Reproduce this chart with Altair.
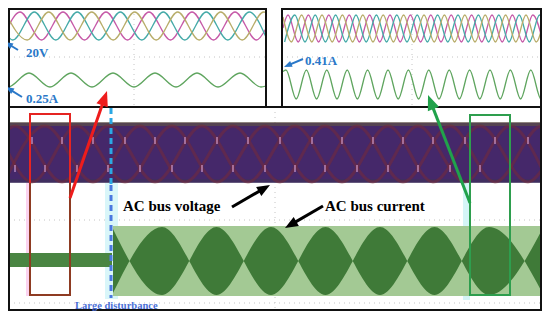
import math
import altair as alt
import pandas as pd

# ------------------------------------------------------------------
# Values (figure pixel units, x right, y down)
# ------------------------------------------------------------------
# Top-left scope: three phase voltages (extremes) and one current
tl_va_x = [5, 20, 41.5, 63, 84.5, 106, 127.5, 149, 170.5, 192, 213.5, 235, 256.5, 266]
tl_va_y = [34, 12, 40, 12, 40, 12, 40, 12, 40, 12, 40, 12, 40, 28.5]
tl_vb_x = [5, 12.8, 34.3, 55.8, 77.3, 98.8, 120.3, 141.8, 163.3, 184.8, 206.3, 227.8, 249.3, 266]
tl_vb_y = [32, 40, 12, 40, 12, 40, 12, 40, 12, 40, 12, 40, 12, 37]
tl_vc_x = [5, 27.2, 48.7, 70.2, 91.7, 113.2, 134.7, 156.2, 177.7, 199.2, 220.7, 242.2, 263.7, 266]
tl_vc_y = [12, 40, 12, 40, 12, 40, 12, 40, 12, 40, 12, 40, 12, 12.3]
tl_i_x = [5, 8, 29, 50, 71, 92, 113, 134, 155, 176, 197, 218, 240, 261, 266]
tl_i_y = [86.5, 87, 73, 87, 73, 87, 73, 87, 73, 87, 73, 87, 73, 87, 86]

# Top-right scope
tr_va_x = [283, 288, 298.2, 308.4, 318.6, 328.8, 339, 349.2, 359.4, 369.6, 379.8, 390, 400.2, 410.4,
           420.6, 430.8, 441, 451.2, 461.4, 471.6, 481.8, 492, 502.2, 512.4, 522.6, 532.8, 543]
tr_va_y = [28, 15, 42, 15, 42, 15, 42, 15, 42, 15, 42, 15, 42, 15,
           42, 15, 42, 15, 42, 15, 42, 15, 42, 15, 42, 15, 42]
tr_vb_x = [284.6, 294.8, 305, 315.2, 325.4, 335.6, 345.8, 356, 366.2, 376.4, 386.6, 396.8, 407, 417.2,
           427.4, 437.6, 447.8, 458, 468.2, 478.4, 488.6, 498.8, 509, 519.2, 529.4, 539.6, 544]
tr_vb_y = [42, 15, 42, 15, 42, 15, 42, 15, 42, 15, 42, 15, 42, 15,
           42, 15, 42, 15, 42, 15, 42, 15, 42, 15, 42, 15, 25.7]
tr_vc_x = [283, 291.4, 301.6, 311.8, 322, 332.2, 342.4, 352.6, 362.8, 373, 383.2, 393.4, 403.6, 413.8,
           424, 434.2, 444.4, 454.6, 464.8, 475, 485.2, 495.4, 505.6, 515.8, 526, 536.2, 544]
tr_vc_y = [17, 42, 15, 42, 15, 42, 15, 42, 15, 42, 15, 42, 15, 42,
           15, 42, 15, 42, 15, 42, 15, 42, 15, 42, 15, 42, 18.5]
tr_i_x = [283, 286, 296.2, 306.4, 316.6, 326.8, 337, 347.2, 357.4, 367.6, 377.8, 388, 398.2, 408.4,
          418.6, 428.8, 439, 449.2, 459.4, 469.6, 479.8, 490, 500.2, 510.4, 520.6, 530.8, 541, 544]
tr_i_y = [71.5, 70, 99, 70, 99, 70, 99, 70, 99, 70, 99, 70, 99, 70,
          99, 70, 99, 70, 99, 70, 99, 70, 99, 70, 99, 70, 99, 97.5]

# Bottom scope: AC bus voltage band and its slow envelopes
bv_band = [5, 544, 123, 182]
bv_a_x = [5, 15, 62, 108, 155, 202, 248, 295, 342, 388, 433, 480, 528, 544]
bv_a_y = [132, 126, 182, 126, 182, 126, 182, 126, 182, 126, 182, 126, 182, 167]
bv_b_x = [5, 45, 93, 140, 185, 233, 280, 325, 373, 418, 465, 510, 544]
bv_b_y = [181, 126, 182, 126, 182, 126, 182, 126, 182, 126, 182, 126, 173]
bv_c_x = [5, 32, 77, 125, 172, 217, 265, 312, 357, 403, 450, 495, 542, 544]
bv_c_y = [146, 182, 126, 182, 126, 182, 126, 182, 126, 182, 126, 182, 126, 126]
mark_top_x = [32, 62, 93, 125, 155, 185, 217, 248, 280, 312, 342, 373, 403, 433, 465, 495, 528]
mark_bot_x = [15, 45, 77, 108, 140, 172, 202, 233, 265, 295, 325, 357, 388, 418, 450, 480, 510, 542]

# Bottom scope: AC bus current (before / after disturbance)
bi_pre = [5, 112, 253, 267]
bi_post = [113, 544, 226, 296]
bi_lens_x = [113, 162, 216.5, 271, 325.5, 380, 434.5, 489, 543.5]
bi_lens_v = [32, -34, 34, -34, 34, -34, 34, -34, 34]
bi_center = 261

# ------------------------------------------------------------------
XS = alt.Scale(domain=[8, 542], zero=False, nice=False, padding=0)
YS = alt.Scale(domain=[8, 311], reverse=True, zero=False, nice=False, padding=0)


def xy():
    return dict(x=alt.X("x:Q", scale=XS, axis=None), y=alt.Y("y:Q", scale=YS, axis=None))


def trace(xs, ys, color, width=1.3, interp="monotone", dash=None, opacity=1.0):
    df = pd.DataFrame({"x": xs, "y": ys, "i": list(range(len(xs)))})
    kw = dict(color=color, strokeWidth=width, interpolate=interp, opacity=opacity)
    if dash is not None:
        kw["strokeDash"] = dash
    return alt.Chart(df).mark_line(**kw).encode(**xy(), order="i:Q")


def box(x1, x2, y1, y2, fill="transparent", stroke="transparent", sw=0, opacity=1.0):
    df = pd.DataFrame({"x": [x1], "x2": [x2], "y": [y1], "y2": [y2]})
    return alt.Chart(df).mark_rect(fill=fill, stroke=stroke, strokeWidth=sw, opacity=opacity).encode(
        **xy(), x2="x2:Q", y2="y2:Q")


def label(x, y, t, size, color, font="Liberation Serif"):
    df = pd.DataFrame({"x": [x], "y": [y], "t": [t]})
    return alt.Chart(df).mark_text(align="left", baseline="middle", font=font, fontWeight="bold",
                                   fontSize=size, color=color).encode(**xy(), text="t:N")


def arrow(tail, tip, color, width, head):
    dx, dy = tip[0] - tail[0], tip[1] - tail[1]
    L = math.hypot(dx, dy)
    ex, ey = tip[0] - dx / L * head * 0.6, tip[1] - dy / L * head * 0.6
    shaft = trace([tail[0], ex], [tail[1], ey], color, width, interp="linear")
    ang = math.degrees(math.atan2(dx, -dy)) % 360
    df = pd.DataFrame({"x": [tip[0]], "y": [tip[1]], "a": [ang]})
    hd = alt.Chart(df).mark_point(shape="M0,0L0.8,2L-0.8,2Z", filled=True, color=color,
                                  size=head * head, opacity=1, strokeWidth=0).encode(
        **xy(), angle=alt.Angle("a:Q", scale=None))
    return [shaft, hd]


MAG, TEAL, OLIVE, CUR = "#c65aa8", "#45aaa8", "#b8ad6a", "#5fa55f"
GRID = "#c4c4c4"
BLUE = "#2a78c8"

layers = []
# dotted grids
layers += [
    trace([9, 266], [57, 57], GRID, 1, "linear", [1, 4]),
    trace([134, 134], [9, 107], GRID, 1, "linear", [1, 4]),
    trace([282, 541], [57, 57], GRID, 1, "linear", [1, 4]),
    trace([412, 412], [9, 107], GRID, 1, "linear", [1, 4]),
    trace([9, 541], [220, 220], GRID, 1, "linear", [1, 4]),
    trace([9, 541], [303, 303], GRID, 1, "linear", [1, 4]),
    trace([275, 275], [107, 310], GRID, 1, "linear", [1, 4]),
]
# top scopes
layers += [
    trace(tl_va_x, tl_va_y, MAG), trace(tl_vb_x, tl_vb_y, TEAL), trace(tl_vc_x, tl_vc_y, OLIVE),
    trace(tl_i_x, tl_i_y, CUR),
    trace(tr_va_x, tr_va_y, MAG), trace(tr_vb_x, tr_vb_y, TEAL), trace(tr_vc_x, tr_vc_y, OLIVE),
    trace(tr_i_x, tr_i_y, CUR),
]
# highlight strips
layers += [
    box(26, 31, 183, 296, fill="#fbd3f0"),
    box(105, 118, 183, 299, fill="#d9f6f9"),
    box(463, 470, 183, 300, fill="#d5f5f7"),
]
# bottom voltage band
layers += [
    box(bv_band[0], bv_band[1], bv_band[2], bv_band[3], fill="#45286a"),
    box(bv_band[0], bv_band[1], bv_band[2] - 1, bv_band[2] + 3, fill="#5e5048", opacity=0.7),
    box(bv_band[0], bv_band[1], bv_band[3] - 3, bv_band[3] + 1, fill="#3f2f5e", opacity=0.8),
    trace(bv_a_x, bv_a_y, "#7a2a34", 3, opacity=0.5),
    trace(bv_b_x, bv_b_y, "#7a2a34", 3, opacity=0.5),
    trace(bv_c_x, bv_c_y, "#7a2a34", 3, opacity=0.5),
]
mdf = pd.DataFrame({"x": mark_top_x + mark_bot_x,
                    "y": [137] * len(mark_top_x) + [165] * len(mark_bot_x),
                    "y2": [144] * len(mark_top_x) + [172] * len(mark_bot_x)})
layers.append(alt.Chart(mdf).mark_rule(strokeWidth=1.3, color="#d8a8dc", opacity=0.85).encode(**xy(), y2="y2:Q"))
# bottom current band
ldf = pd.DataFrame({"x": bi_lens_x,
                    "y": [bi_center - v for v in bi_lens_v],
                    "y2": [bi_center + v for v in bi_lens_v]})
layers += [
    box(bi_pre[0], bi_pre[1], bi_pre[2], bi_pre[3], fill="#4a8542"),
    box(bi_post[0], bi_post[1], bi_post[2], bi_post[3], fill="#a3c994"),
    alt.Chart(ldf).mark_area(interpolate="monotone", color="#3f7a38").encode(**xy(), y2="y2:Q"),
]
# panel frames
layers += [
    trace([9, 9, 266, 266], [107, 9, 9, 107], "#111111", 2, "linear"),
    trace([282, 282, 541, 541], [107, 9, 9, 107], "#111111", 2, "linear"),
    box(9, 541, 107, 310, stroke="#111111", sw=2),
]
# disturbance marker
layers += [
    trace([111, 111], [108, 185], "#2aa8e4", 3, "linear", [6, 4]),
    trace([111, 111], [185, 298], "#4a78e0", 3, "linear", [6, 4]),
    label(75, 306, "Large disturbance", 10.5, "#4a6fd6"),
]
# zoom boxes
layers += [
    box(30, 70, 114, 295, stroke="#e52421", sw=2),
    trace([30, 30, 70, 70], [183, 295, 295, 183], "#8e3b22", 2, "linear"),
    box(470, 510, 115, 295, stroke="#2e9e4e", sw=2),
]
# arrows and labels
layers += arrow((70, 198), (107, 91), "#ee1c1c", 3, 15)
layers += arrow((470, 203), (428, 95), "#21a24b", 3, 15)
layers += arrow((232, 207), (270, 185), "#000000", 3, 13)
layers += arrow((323, 206), (285, 228), "#000000", 3, 13)
layers += arrow((18, 50), (5, 42), BLUE, 2, 8)
layers += arrow((22, 97), (6, 87), BLUE, 2, 8)
layers += arrow((303, 59), (284, 67), BLUE, 2, 8)
layers += [
    label(26, 53, "20V", 13, BLUE),
    label(26, 99, "0.25A", 13, BLUE),
    label(305, 61, "0.41A", 13, BLUE),
    label(123, 206, "AC bus voltage", 15, "#000000"),
    label(325, 206, "AC bus current", 15, "#000000"),
]

chart = alt.layer(*layers).properties(
    width=534, height=303, padding=0, autosize=alt.AutoSizeParams(type="none")
).configure_view(strokeWidth=0)
chart.save("out.html", embed_options={"renderer": "svg", "actions": False})
